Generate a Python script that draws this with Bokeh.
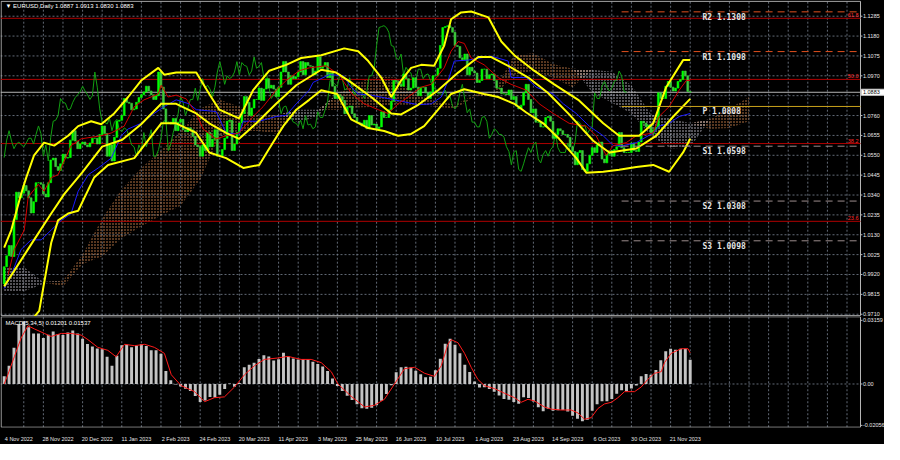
from bokeh.plotting import figure
from bokeh.layouts import column
from bokeh.models import (ColumnDataSource, FixedTicker, Label, Range1d, CustomJSTickFormatter)
from bokeh.core.properties import value
from bokeh.embed import file_html
from bokeh.resources import INLINE

# ---------------- data ----------------
title_text = "\u25BC EURUSD,Daily  1.0887 1.0913 1.0830 1.0883"
first_open = 0.9870
closes = [
    0.9961, 1.0019, 1.0073, 1.0015, 1.0210, 1.0355, 1.0325, 1.0350, 1.0390, 1.0362,
    1.0325, 1.0245, 1.0305, 1.0405, 1.0405, 1.0397, 1.0345, 1.0330, 1.0405, 1.0525,
    1.0535, 1.0490, 1.0470, 1.0505, 1.0555, 1.0535, 1.0538, 1.0630, 1.0680, 1.0625,
    1.0585, 1.0610, 1.0620, 1.0605, 1.0595, 1.0615, 1.0640, 1.0640, 1.0610, 1.0660,
    1.0705, 1.0665, 1.0545, 1.0605, 1.0520, 1.0645, 1.0730, 1.0735, 1.0760, 1.0850,
    1.0830, 1.0825, 1.0790, 1.0795, 1.0830, 1.0855, 1.0870, 1.0885, 1.0915, 1.0890,
    1.0870, 1.0845, 1.0865, 1.0990, 1.0910, 1.0795, 1.0725, 1.0725, 1.0715, 1.0745,
    1.0680, 1.0725, 1.0740, 1.0685, 1.0675, 1.0695, 1.0685, 1.0650, 1.0605, 1.0595,
    1.0545, 1.0605, 1.0575, 1.0670, 1.0595, 1.0635, 1.0685, 1.0545, 1.0545, 1.0580,
    1.0640, 1.0730, 1.0735, 1.0575, 1.0610, 1.0670, 1.0720, 1.0770, 1.0860, 1.0830,
    1.0760, 1.0800, 1.0845, 1.0845, 1.0905, 1.0840, 1.0900, 1.0955, 1.0905, 1.0920,
    1.0900, 1.0860, 1.0910, 1.0990, 1.1045, 1.0990, 1.0925, 1.0970, 1.0955, 1.0965,
    1.0990, 1.1045, 1.0975, 1.1040, 1.1025, 1.1020, 1.0975, 1.0995, 1.1070, 1.1010,
    1.1020, 1.1040, 1.0960, 1.0985, 1.0915, 1.0850, 1.0870, 1.0860, 1.0840, 1.0770,
    1.0805, 1.0810, 1.0770, 1.0750, 1.0725, 1.0720, 1.0705, 1.0735, 1.0690, 1.0760,
    1.0710, 1.0715, 1.0690, 1.0700, 1.0780, 1.0750, 1.0750, 1.0790, 1.0835, 1.0945,
    1.0940, 1.0925, 1.0915, 1.0980, 1.0955, 1.0895, 1.0905, 1.0960, 1.0910, 1.0865,
    1.0910, 1.0910, 1.0880, 1.0850, 1.0885, 1.0970, 1.0970, 1.1010, 1.1130, 1.1225,
    1.1230, 1.1235, 1.1225, 1.1200, 1.1130, 1.1125, 1.1065, 1.1055, 1.1085, 1.0975,
    1.1015, 1.0995, 1.0985, 1.0935, 1.0945, 1.1005, 1.1005, 1.0955, 1.0975, 1.0980,
    1.0945, 1.0905, 1.0905, 1.0875, 1.0875, 1.0870, 1.0895, 1.0845, 1.0860, 1.0810,
    1.0795, 1.0815, 1.0880, 1.0925, 1.0845, 1.0775, 1.0795, 1.0725, 1.0725, 1.0700,
    1.0700, 1.0750, 1.0755, 1.0730, 1.0640, 1.0660, 1.0690, 1.0680, 1.0660, 1.0660,
    1.0645, 1.0595, 1.0570, 1.0500, 1.0565, 1.0575, 1.0475, 1.0465, 1.0505, 1.0550,
    1.0590, 1.0565, 1.0605, 1.0620, 1.0530, 1.0510, 1.0555, 1.0575, 1.0545, 1.0580,
    1.0595, 1.0670, 1.0590, 1.0565, 1.0565, 1.0565, 1.0615, 1.0575, 1.0570, 1.0620,
    1.0730, 1.0720, 1.0700, 1.0710, 1.0665, 1.0685, 1.0700, 1.0880, 1.0850, 1.0850,
    1.0915, 1.0940, 1.0910, 1.0890, 1.0905, 1.0940, 1.0950, 1.0995, 1.0970, 1.0887,
    1.0883,
]
chikou_shift = 26

# Bollinger bands (bar position, price)
bb_upper_bars = [0, 2.9, 6.9, 9.0, 12.2, 16.3, 20.4, 26.1, 30.2, 35.5, 39.6, 44.9, 50.6, 55.9,
                 62.9, 65.3, 70.2, 78.4, 83.7, 87.8, 95.9, 101.6, 108.2, 115.1, 121.2, 129.4,
                 138.8, 144.5, 148.6, 153.9, 158.0, 162.0, 166.1, 170.2, 175.5, 179.6, 182.4,
                 186.5, 190.6, 197.6, 202.9, 208.2, 216.3, 224.5, 234.3, 244.5, 251.0, 259.2,
                 264.9, 270.2, 277.1, 280.0]
bb_upper = [1.0062, 1.0155, 1.0345, 1.0432, 1.0550, 1.0617, 1.0601, 1.0653, 1.0704, 1.0730,
            1.0714, 1.0771, 1.0858, 1.0945, 1.1012, 1.0976, 1.0987, 1.0987, 1.0874, 1.0791,
            1.0745, 1.0894, 1.0997, 1.1028, 1.1064, 1.1079, 1.1115, 1.1100, 1.1048, 1.0961,
            1.0858, 1.0945, 1.1012, 1.1028, 1.1023, 1.1130, 1.1269, 1.1305, 1.1310, 1.1279,
            1.1151, 1.1079, 1.0997, 1.0925, 1.0843, 1.0719, 1.0653, 1.0653, 1.0719, 1.0910,
            1.1053, 1.1053]
bb_middle_bars = [0, 12.2, 19.2, 24.5, 31.8, 40.0, 48.2, 55.9, 64.1, 70.2, 78.4, 83.7, 90.6,
                  95.9, 102.9, 111.0, 119.2, 129.4, 135.5, 141.6, 149.8, 158.0, 162.0, 169.0,
                  177.1, 185.3, 193.5, 198.8, 205.7, 213.9, 222.0, 230.6, 240.4, 247.0, 258.0,
                  266.1, 273.1, 280.0]
bb_middle = [0.9857, 1.0103, 1.0242, 1.0345, 1.0458, 1.0596, 1.0632, 1.0714, 1.0822, 1.0822,
             1.0771, 1.0719, 1.0668, 1.0637, 1.0719, 1.0822, 1.0920, 1.1002, 1.0987, 1.0935,
             1.0858, 1.0771, 1.0766, 1.0817, 1.0894, 1.0987, 1.1069, 1.1069, 1.1023, 1.0961,
             1.0879, 1.0766, 1.0627, 1.0565, 1.0586, 1.0653, 1.0755, 1.0848]
bb_lower_bars = [0, 8, 14.3, 19.2, 22.0, 26.1, 30.2, 36.7, 42.4, 53.1, 64.1, 70.2, 78.4, 83.7,
                 90.6, 97.6, 104.1, 108.2, 113.9, 119.2, 124.5, 129.4, 135.9, 141.6, 148.6,
                 155.1, 160.8, 166.1, 171.4, 177.1, 182.4, 187.8, 195.9, 201.6, 208.2, 213.1,
                 220.0, 226.5, 233.5, 237.6, 244.5, 251.0, 258.0, 264.9, 271.4, 277.1, 280.0]
bb_lower = [0.9652, 0.9630, 0.9728, 1.0088, 1.0206, 1.0242, 1.0257, 1.0432, 1.0499, 1.0535,
            1.0719, 1.0719, 1.0668, 1.0565, 1.0535, 1.0483, 1.0499, 1.0586, 1.0704, 1.0791,
            1.0843, 1.0894, 1.0874, 1.0740, 1.0694, 1.0678, 1.0653, 1.0663, 1.0704, 1.0791,
            1.0874, 1.0899, 1.0874, 1.0858, 1.0822, 1.0776, 1.0719, 1.0637, 1.0535, 1.0458,
            1.0463, 1.0473, 1.0488, 1.0499, 1.0463, 1.0565, 1.0637]

# Ichimoku red (tenkan) and blue (kijun) lines
red_bars = [1.6, 4.1, 8.2, 9.8, 13.9, 16.3, 19.2, 22.0, 27.3, 31.4, 39.6, 43.7, 49.0, 53.1,
            57.1, 62.9, 64.1, 66.9, 70.2, 74.3, 78.4, 81.2, 86.5, 90.6, 95.9, 101.6, 105.7,
            111.0, 115.1, 120.4, 124.5, 131.4, 136.7, 141.6, 146.9, 152.7, 156.7, 160.8,
            164.9, 170.2, 174.3, 179.6, 182.4, 185.3, 187.8, 190.6, 195.9, 201.6, 206.9,
            213.1, 218.4, 224.1, 230.6, 237.6, 241.6, 245.7, 248.6, 253.9, 258.0, 264.9,
            267.3, 271.4, 275.5, 278.4, 280.0]
red_line = [0.9918, 1.0052, 1.0155, 1.0329, 1.0396, 1.0360, 1.0432, 1.0447, 1.0601, 1.0637,
            1.0653, 1.0668, 1.0704, 1.0807, 1.0843, 1.0874, 1.0920, 1.0858, 1.0868, 1.0848,
            1.0771, 1.0689, 1.0637, 1.0653, 1.0668, 1.0755, 1.0807, 1.0894, 1.0945, 1.0997,
            1.1012, 1.1023, 1.0976, 1.0879, 1.0822, 1.0791, 1.0771, 1.0822, 1.0858, 1.0910,
            1.0925, 1.1012, 1.1100, 1.1151, 1.1141, 1.1064, 1.1028, 1.0961, 1.0925, 1.0894,
            1.0822, 1.0771, 1.0719, 1.0704, 1.0653, 1.0550, 1.0601, 1.0617, 1.0653, 1.0668,
            1.0755, 1.0807, 1.0894, 1.0945, 1.0945]
blue_bars = [0, 2.9, 6.9, 11.0, 15.1, 19.2, 23.3, 27.3, 30.2, 34.3, 38.4, 43.7, 47.8, 50.6,
             55.9, 61.2, 65.3, 70.2, 75.5, 78.4, 86.5, 90.6, 95.9, 97.6, 104.1, 111.0, 115.1,
             119.2, 124.5, 126.1, 132.7, 138.4, 141.6, 144.5, 149.8, 159.2, 169.0, 174.3,
             178.4, 181.2, 183.7, 189.4, 198.8, 205.7, 206.9, 213.1, 217.1, 224.1, 228.2,
             233.5, 238.8, 244.5, 248.6, 252.7, 258.0, 264.9, 267.3, 271.4, 275.5, 280.0]
blue_line = [0.9846, 0.9918, 1.0052, 1.0103, 1.0103, 1.0155, 1.0206, 1.0242, 1.0360, 1.0447,
             1.0483, 1.0535, 1.0653, 1.0689, 1.0719, 1.0771, 1.0807, 1.0843, 1.0822, 1.0791,
             1.0781, 1.0668, 1.0663, 1.0730, 1.0730, 1.0755, 1.0761, 1.0822, 1.0894, 1.0935,
             1.0976, 1.0971, 1.0910, 1.0874, 1.0868, 1.0843, 1.0817, 1.0822, 1.0858, 1.0945,
             1.1048, 1.1053, 1.1074, 1.1048, 1.0961, 1.0961, 1.0910, 1.0874, 1.0822, 1.0771,
             1.0704, 1.0653, 1.0601, 1.0601, 1.0617, 1.0668, 1.0704, 1.0719, 1.0755, 1.0771]

# Ichimoku cloud spans (already shifted forward)
cloud_bars = list(range(0, 305, 8))
span_a = [0.9831, 0.9831, 0.9870, 0.9887, 1.0026, 1.0216, 1.0370, 1.0483, 1.0576, 1.0678,
          1.0797, 1.0843, 1.0807, 1.0755, 1.0766, 1.0725, 1.0755, 1.0874, 1.0935, 1.0966,
          1.0961, 1.0868, 1.0838, 1.0817, 1.0868, 1.0884, 1.1079, 1.1089, 1.1033, 1.1007,
          1.0884, 1.0827, 1.0771, 1.0653, 1.0586, 1.0591, 1.0740, 1.0797, 1.0858]
span_b = [0.9959, 0.9959, 0.9880, 0.9857, 0.9975, 1.0016, 1.0113, 1.0175, 1.0232, 1.0283,
          1.0422, 1.0653, 1.0678, 1.0678, 1.0663, 1.0791, 1.0791, 1.0791, 1.0802, 1.0807,
          1.0817, 1.0817, 1.0807, 1.0797, 1.0858, 1.0863, 1.0976, 1.0997, 1.0961, 1.0910,
          1.1002, 1.0992, 1.0920, 1.0766, 1.0745, 1.0719, 1.0689, 1.0694, 1.0730]

# MACD
macd_bars = list(range(0, 281, 2))
macd_hist = [
    0.0038, 0.0091, 0.0180, 0.0296, 0.0311, 0.0282, 0.0251, 0.0251, 0.0228, 0.0245,
    0.0260, 0.0248, 0.0243, 0.0255, 0.0265, 0.0251, 0.0225, 0.0199, 0.0186, 0.0176,
    0.0172, 0.0135, 0.0090, 0.0140, 0.0192, 0.0195, 0.0182, 0.0190, 0.0197, 0.0188,
    0.0167, 0.0168, 0.0150, 0.0065, 0.0018, -0.0003, -0.0013, -0.0024, -0.0035, -0.0060,
    -0.0090, -0.0082, -0.0065, -0.0067, -0.0053, -0.0025, 0.0002, -0.0014, 0.0005, 0.0083,
    0.0096, 0.0106, 0.0124, 0.0143, 0.0136, 0.0116, 0.0123, 0.0155, 0.0137, 0.0127,
    0.0122, 0.0124, 0.0122, 0.0110, 0.0099, 0.0087, 0.0065, 0.0027, -0.0010, -0.0035,
    -0.0058, -0.0080, -0.0101, -0.0120, -0.0123, -0.0118, -0.0106, -0.0083, -0.0050, -0.0006,
    0.0058, 0.0083, 0.0085, 0.0082, 0.0066, 0.0048, 0.0034, 0.0036, 0.0068, 0.0125,
    0.0200, 0.0225, 0.0195, 0.0152, 0.0096, 0.0060, 0.0012, -0.0018, -0.0016, -0.0025,
    -0.0038, -0.0057, -0.0075, -0.0078, -0.0090, -0.0098, -0.0066, -0.0069, -0.0087, -0.0115,
    -0.0135, -0.0123, -0.0133, -0.0130, -0.0129, -0.0136, -0.0158, -0.0173, -0.0185, -0.0178,
    -0.0133, -0.0100, -0.0086, -0.0086, -0.0075, -0.0048, -0.0031, -0.0035, -0.0023, -0.0008,
    0.0038, 0.0050, 0.0046, 0.0070, 0.0118, 0.0162, 0.0175, 0.0170, 0.0175, 0.0175,
    0.0120,
]
signal_bars = [0, 1.5, 4.2, 6.9, 9.7, 12.4, 16.4, 19.2, 23.3, 27.3, 31.4, 34.2, 38.2, 42.3,
               45.7, 49.1, 53.2, 57.3, 61.3, 65.4, 68.2, 72.2, 77.7, 81.8, 85.8, 89.9, 94.0,
               98.1, 102.2, 106.2, 111.7, 115.8, 121.2, 125.3, 129.4, 133.5, 136.2, 141.6,
               147.1, 151.1, 155.2, 159.3, 163.4, 167.5, 171.6, 175.6, 178.4, 181.1, 182.4,
               185.2, 187.9, 190.6, 193.3, 196.0, 200.1, 204.2, 208.3, 211.0, 213.8, 216.4,
               220.5, 223.3, 227.3, 231.4, 234.2, 236.9, 239.6, 242.3, 245.0, 247.8, 250.5,
               253.2, 257.3, 260.0, 262.7, 265.4, 268.2, 269.5, 272.2, 276.3, 279.1, 280.0]
macd_signal = [0.0000, 0.0046, 0.0137, 0.0228, 0.0289, 0.0273, 0.0251, 0.0236, 0.0251, 0.0251,
               0.0243, 0.0220, 0.0182, 0.0167, 0.0135, 0.0197, 0.0190, 0.0197, 0.0182, 0.0152,
               0.0046, -0.0008, -0.0038, -0.0088, -0.0068, -0.0064, -0.0015, 0.0046, 0.0091,
               0.0122, 0.0129, 0.0137, 0.0122, 0.0122, 0.0106, 0.0061, 0.0000, -0.0061, -0.0114,
               -0.0106, -0.0076, 0.0000, 0.0076, 0.0083, 0.0053, 0.0038, 0.0091, 0.0197, 0.0220,
               0.0205, 0.0152, 0.0083, 0.0023, -0.0008, -0.0023, -0.0046, -0.0068, -0.0091,
               -0.0076, -0.0084, -0.0114, -0.0125, -0.0129, -0.0129, -0.0144, -0.0175, -0.0167,
               -0.0122, -0.0099, -0.0091, -0.0068, -0.0038, -0.0038, -0.0015, 0.0023, 0.0053,
               0.0061, 0.0106, 0.0152, 0.0175, 0.0175, 0.0154]
macd_title = "MACD(5,34,5) 0.01201 0.01537"
macd_ticks = [0.03159, 0.0, -0.02056]
macd_tick_labels = ["0.03159", "0.00", "-0.02056"]

date_bars = [0, 16, 32, 48, 64, 80, 96, 112, 128, 144, 160, 176, 192, 208, 224, 240, 256, 272]
date_labels = ["4 Nov 2022", "28 Nov 2022", "20 Dec 2022", "11 Jan 2023", "2 Feb 2023",
               "24 Feb 2023", "20 Mar 2023", "11 Apr 2023", "3 May 2023", "25 May 2023",
               "16 Jun 2023", "10 Jul 2023", "1 Aug 2023", "23 Aug 2023", "14 Sep 2023",
               "6 Oct 2023", "30 Oct 2023", "21 Nov 2023"]

price_ticks = [1.1285, 1.1180, 1.1075, 1.0970, 1.0865, 1.0760, 1.0655, 1.0550,
               1.0445, 1.0340, 1.0235, 1.0130, 1.0025, 0.9920, 0.9815, 0.9710]
last_price = 1.0883

pivot_names = ["R2", "R1", "P", "S1", "S2", "S3"]
pivot_values = [1.1308, 1.1098, 1.0808, 1.0598, 1.0308, 1.0098]
fib_names = ["61.8", "50.0", "38.2", "23.6"]
fib_values = [1.1274, 1.0951, 1.0612, 1.0201]

# ---------------- layout / style constants ----------------
XL, XR = -1.5, 359.3          # whole frame (chart + price scale) in bar units
X1 = 349.5                    # right edge of the chart area
Y_MAIN = (0.9698, 1.1368)
Y_MACD = (-0.0216, 0.0335)
PIVOT_START = 252
PIVOT_LABEL_X = 285
LABEL_SHIFT = 6
GRID_X = [b for b in range(8, 352, 8) if b < X1]
FONT = "Liberation Sans"
FS = "5.5px"
AX_COLOR = "#e8e8e8"
FRAME = "#b8b8b8"
GRID = "#7a8594"


def base_figure(height, yr, bottom):
    f = figure(width=884, height=height, x_range=Range1d(XL, XR), y_range=Range1d(*yr),
               output_backend="svg", toolbar_location=None, y_axis_location=None,
               x_axis_location=("below" if bottom else None),
               min_border_left=0, min_border_right=0, min_border_top=0,
               min_border_bottom=(12 if bottom else 0))
    f.background_fill_color = "black"
    f.border_fill_color = "black"
    f.outline_line_color = None
    f.grid.visible = False
    return f


def frame_and_scale(f, yr, grid_y, tick_vals, tick_labels):
    y0, y1 = yr
    pad = (y1 - y0) * 0.0025
    yb, yt = y0 + pad, y1 - pad
    f.segment(x0=GRID_X, x1=GRID_X, y0=[yb] * len(GRID_X), y1=[yt] * len(GRID_X),
              line_color=GRID, line_dash="2 2", line_alpha=0.8, line_width=1)
    f.segment(x0=[XL] * len(grid_y), x1=[X1] * len(grid_y), y0=grid_y, y1=grid_y,
              line_color=GRID, line_dash="2 2", line_alpha=0.8, line_width=1)
    xl = XL + 0.25
    f.segment(x0=[xl, X1, xl, xl], x1=[xl, X1, X1, X1], y0=[yb, yb, yb, yt],
              y1=[yt, yt, yb, yt], line_color=FRAME, line_width=1)
    f.segment(x0=[X1] * len(tick_vals), x1=[X1 + 0.8] * len(tick_vals),
              y0=tick_vals, y1=tick_vals, line_color=FRAME, line_width=1)
    f.text(x=[X1 + 1.0] * len(tick_vals), y=tick_vals, text=tick_labels,
           text_font=value(FONT), text_font_size=value(FS), text_color=AX_COLOR,
           text_baseline="middle", text_align="left")


# ---------------- main price panel ----------------
p = base_figure(316, Y_MAIN, False)
shown = [t for t in price_ticks if abs(t - last_price) > 0.0025]
frame_and_scale(p, Y_MAIN, price_ticks, shown, ["%.4f" % t for t in shown])

# Ichimoku cloud (dotted)
upper_ab = [max(a, b) for a, b in zip(span_a, span_b)]
p.varea(x=cloud_bars, y1=span_b, y2=upper_ab, fill_alpha=0, hatch_pattern="dot",
        hatch_color="#d8884e", hatch_scale=3.0, hatch_weight=1.6, hatch_alpha=1.0)
p.varea(x=cloud_bars, y1=span_a, y2=upper_ab, fill_alpha=0, hatch_pattern="dot",
        hatch_color="#dcd8e4", hatch_scale=3.0, hatch_weight=1.6, hatch_alpha=0.95)

# Fibonacci levels and current price line
p.segment(x0=[XL] * len(fib_values), x1=[X1] * len(fib_values), y0=fib_values,
          y1=fib_values, line_color="#b00000", line_width=1)
p.segment(x0=[XL], x1=[X1], y0=[last_price], y1=[last_price],
          line_color="#b4b4b4", line_width=1)

# chikou (close shifted back)
chik_x = [i - chikou_shift for i in range(chikou_shift, len(closes))]
p.line(chik_x, closes[chikou_shift:], line_color="#12a012", line_width=1)

# candles
opens = [first_open] + closes[:-1]
csrc = ColumnDataSource(dict(
    x=list(range(len(closes))),
    top=[max(o, c) for o, c in zip(opens, closes)],
    bottom=[min(o, c) for o, c in zip(opens, closes)],
    color=["#00ff00" if c >= o else "#3ccc3c" for o, c in zip(opens, closes)],
))
p.vbar(x="x", width=0.75, top="top", bottom="bottom", fill_color="color",
       line_color="color", line_width=0.6, source=csrc)

# Ichimoku lines
p.line(blue_bars, blue_line, line_color="#1a1aff", line_width=1)
p.line(red_bars, red_line, line_color="#d40000", line_width=1)

# Bollinger bands
p.line(bb_upper_bars, bb_upper, line_color="#ffff00", line_width=2)
p.line(bb_middle_bars, bb_middle, line_color="#ffff00", line_width=2)
p.line(bb_lower_bars, bb_lower, line_color="#ffff00", line_width=2)

# pivot levels
for name, v in zip(pivot_names, pivot_values):
    if name.startswith("R"):
        p.segment(x0=PIVOT_START, y0=v, x1=X1, y1=v, line_color="#e2501e",
                  line_width=1, line_dash="7 5")
    elif name == "P":
        p.segment(x0=PIVOT_START, y0=v, x1=X1, y1=v, line_color="#c9a21c", line_width=1)
    else:
        p.segment(x0=PIVOT_START, y0=v, x1=X1, y1=v, line_color="#9c8c8c",
                  line_width=1, line_dash="7 5")
    p.add_layout(Label(x=PIVOT_LABEL_X, y=v, text="%s %.4f" % (name, v),
                       text_font="DejaVu Sans Mono", text_font_size="8px",
                       text_font_style="bold", text_color="#e4e4e4",
                       text_baseline="top", y_offset=-1))

for name, v in zip(fib_names, fib_values):
    p.add_layout(Label(x=X1, y=v, text=name, x_offset=-2, y_offset=1,
                       text_align="right", text_baseline="bottom",
                       text_font=FONT, text_font_size="5.5px", text_color="#ff2a2a"))

p.add_layout(Label(x=XL, y=Y_MAIN[1], x_offset=5, y_offset=-2, text=title_text,
                   text_baseline="top", text_font=FONT, text_font_size="6px",
                   text_color="#ffffff"))

# current price box on the price scale
box_h = 0.0016
p.quad(left=[X1 + 0.3], right=[XR], bottom=[last_price - box_h], top=[last_price + box_h],
       fill_color="white", line_color="#d0d0d0")
p.text(x=[X1 + 1.0], y=[last_price], text=["%.4f" % last_price], text_font=value(FONT),
       text_font_size=value(FS), text_color="black", text_baseline="middle",
       text_align="left")

# ---------------- MACD panel ----------------
p2 = base_figure(128, Y_MACD, True)
frame_and_scale(p2, Y_MACD, [0.0], macd_ticks, macd_tick_labels)

p2.vbar(x=macd_bars, top=macd_hist, bottom=0, width=1.2, fill_color="#c4c4c4",
        line_color=None)
p2.line(signal_bars, macd_signal, line_color="#ff1a1a", line_width=1)

xa = p2.xaxis[0]
xa.ticker = FixedTicker(ticks=[b + LABEL_SHIFT for b in date_bars])
xa.formatter = CustomJSTickFormatter(args=dict(labels=date_labels),
                                     code="return labels[index];")
xa.axis_line_color = None
xa.major_tick_line_color = None
xa.minor_tick_line_color = None
xa.major_label_text_font = FONT
xa.major_label_text_font_size = FS
xa.major_label_text_color = AX_COLOR
xa.major_label_standoff = 2

p2.add_layout(Label(x=XL, y=Y_MACD[1], x_offset=5, y_offset=-3, text=macd_title,
                    text_baseline="top", text_font=FONT, text_font_size="6px",
                    text_color="#ffffff"))

layout = column(p, p2, spacing=0, background="black")
open("out.html", "w").write(file_html(layout, INLINE))
